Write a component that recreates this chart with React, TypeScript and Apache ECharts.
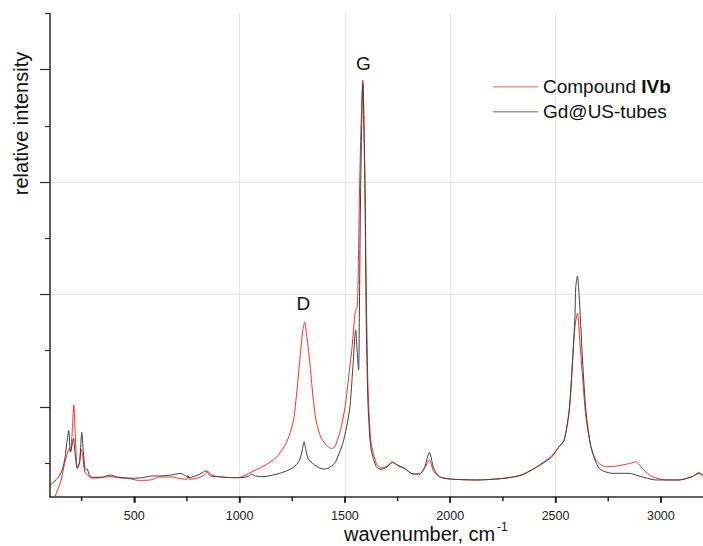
import React, { useEffect, useRef } from "react";
import * as echarts from "echarts";

// Compound IVb (red)
const redWavenumbers = [100, 124, 150, 170, 185, 192, 198, 206, 213, 220, 230, 240, 248, 256, 265, 280, 300, 350, 385, 420, 480, 520, 580, 620, 680, 720, 750, 756, 762, 800, 830, 845, 860, 900, 950, 1000, 1056, 1111, 1175, 1222, 1254, 1270, 1285, 1300, 1309, 1318, 1333, 1348, 1364, 1388, 1419, 1436, 1451, 1475, 1500, 1520, 1535, 1546, 1551, 1559, 1565, 1570, 1578, 1585, 1593, 1601, 1609, 1617, 1625, 1649, 1672, 1700, 1725, 1736, 1759, 1783, 1823, 1854, 1878, 1901, 1922, 1949, 2001, 2130, 2257, 2336, 2399, 2446, 2480, 2517, 2541, 2565, 2581, 2592, 2604, 2616, 2628, 2644, 2668, 2691, 2715, 2739, 2780, 2818, 2850, 2870, 2881, 2895, 2912, 2935, 2960, 3023, 3086, 3150, 3181, 3200];
const redIntensity = [0.0, 0.2, 0.33, 0.5, 0.6, 0.63, 0.6, 0.8, 1.016, 0.75, 0.46, 0.5, 0.62, 0.55, 0.42, 0.39, 0.365, 0.37, 0.38, 0.37, 0.36, 0.345, 0.35, 0.375, 0.375, 0.36, 0.355, 0.39, 0.355, 0.365, 0.39, 0.42, 0.385, 0.378, 0.37, 0.372, 0.42, 0.47, 0.55, 0.68, 0.86, 1.1, 1.4, 1.68, 1.752, 1.65, 1.4, 1.1, 0.867, 0.72, 0.645, 0.63, 0.64, 0.764, 0.99, 1.3, 1.55, 1.8, 1.86, 1.89, 2.4, 2.99, 3.58, 3.907, 3.28, 2.1, 1.21, 0.85, 0.675, 0.497, 0.455, 0.47, 0.502, 0.5, 0.467, 0.452, 0.402, 0.402, 0.45, 0.527, 0.422, 0.378, 0.357, 0.349, 0.364, 0.393, 0.453, 0.511, 0.56, 0.645, 0.704, 0.971, 1.416, 1.713, 1.832, 1.564, 1.268, 0.912, 0.645, 0.527, 0.485, 0.467, 0.47, 0.482, 0.495, 0.505, 0.511, 0.49, 0.453, 0.41, 0.378, 0.349, 0.349, 0.38, 0.408, 0.38];

// Gd@US-tubes (black)
const blackWavenumbers = [100, 140, 160, 172, 180, 189, 197, 205, 212, 218, 230, 240, 251, 258, 266, 272, 277, 285, 298, 350, 385, 420, 495, 540, 582, 620, 677, 717, 740, 760, 803, 843, 870, 900, 960, 1001, 1040, 1056, 1075, 1111, 1190, 1254, 1285, 1298, 1306, 1314, 1325, 1356, 1396, 1419, 1451, 1490, 1522, 1538, 1551, 1558, 1565, 1569, 1573, 1579, 1585, 1590, 1595, 1601, 1609, 1617, 1625, 1649, 1672, 1700, 1725, 1740, 1783, 1823, 1854, 1878, 1901, 1922, 1949, 2001, 2130, 2257, 2336, 2399, 2446, 2480, 2517, 2541, 2565, 2581, 2592, 2596, 2604, 2610, 2616, 2628, 2644, 2668, 2707, 2770, 2849, 2897, 2976, 3086, 3150, 3181, 3200];
const blackIntensity = [0.304, 0.373, 0.45, 0.556, 0.68, 0.787, 0.6, 0.66, 0.72, 0.6, 0.45, 0.5, 0.773, 0.6, 0.455, 0.44, 0.445, 0.4, 0.373, 0.375, 0.393, 0.375, 0.364, 0.37, 0.384, 0.385, 0.393, 0.408, 0.39, 0.37, 0.393, 0.43, 0.39, 0.378, 0.37, 0.369, 0.38, 0.4, 0.385, 0.378, 0.408, 0.458, 0.527, 0.62, 0.689, 0.62, 0.542, 0.482, 0.446, 0.453, 0.497, 0.675, 0.971, 1.357, 1.683, 1.5, 1.327, 1.9, 2.69, 3.44, 3.88, 3.5, 2.99, 1.8, 1.06, 0.76, 0.615, 0.467, 0.444, 0.465, 0.509, 0.49, 0.452, 0.402, 0.402, 0.46, 0.595, 0.45, 0.378, 0.357, 0.349, 0.364, 0.39, 0.45, 0.505, 0.55, 0.645, 0.704, 0.971, 1.416, 1.801, 2.068, 2.163, 2.05, 1.86, 1.416, 0.971, 0.645, 0.453, 0.408, 0.408, 0.384, 0.349, 0.349, 0.38, 0.413, 0.39];

const xMajorTicks = [500, 1000, 1500, 2000, 2500, 3000];
const xMinorTicks = [250, 750, 1250, 1750, 2250, 2750];
const yMajorTicks = [1, 2, 3, 4];
const yMinorTicks = [0.5, 1.5, 2.5, 3.5, 4.5];

const seriesNames = ["Compound IVb", "Gd@US-tubes"];
const FONT = "'Liberation Sans', Arial, sans-serif";
const Y_MIN = 0.2;

export default function App() {
  const ref = useRef<HTMLDivElement>(null);

  useEffect(() => {
    if (!ref.current) return;
    const chart = echarts.init(ref.current, undefined, { renderer: "svg" });
    const red = redWavenumbers.map((w, i) => [w, redIntensity[i]]);
    const black = blackWavenumbers.map((w, i) => [w, blackIntensity[i]]);
    const tickData = [
      ...xMajorTicks.map((v) => [v, 6]),
      ...xMinorTicks.map((v) => [v, 4.5]),
    ];

    const yCommon = {
      type: "value" as const,
      min: Y_MIN,
      max: 4.5,
      position: "left" as const,
    };

    chart.setOption({
      animation: false,
      textStyle: { fontFamily: FONT },
      grid: { left: 50, top: 13.4, width: 654, height: 483.3, containLabel: false },
      xAxis: {
        type: "value",
        min: 100,
        max: 3200,
        position: "bottom",
        interval: 500,
        axisLine: { show: true, onZero: false, lineStyle: { color: "#2a2a2a", width: 1.5 } },
        axisTick: { show: true, inside: false, length: 6, customValues: xMajorTicks, lineStyle: { color: "#222", width: 1.5 } },
        axisLabel: {
          show: true,
          customValues: xMajorTicks,
          margin: 13,
          fontSize: 12.5,
          color: "#222",
          fontFamily: FONT,
          formatter: (v: number) => String(v),
        },
        splitLine: { show: true, showMinLine: false, showMaxLine: false, lineStyle: { color: "#e4e4e4", width: 1 } },
      },
      yAxis: [
        {
          ...yCommon,
          interval: 1,
          axisLine: { show: true, lineStyle: { color: "#2a2a2a", width: 1.5 } },
          axisTick: { show: true, length: 10, customValues: yMajorTicks, lineStyle: { color: "#2a2a2a", width: 1.2 } },
          axisLabel: { show: false },
          splitLine: { show: true, showMinLine: false, showMaxLine: false, lineStyle: { color: "#e4e4e4", width: 1 } },
        },
        {
          ...yCommon,
          interval: 0.5,
          axisLine: { show: false },
          axisTick: { show: true, length: 5, customValues: yMinorTicks, lineStyle: { color: "#2a2a2a", width: 1.2 } },
          axisLabel: { show: false },
          splitLine: { show: false },
        },
      ],
      legend: {
        orient: "vertical",
        left: 488,
        top: 70.7,
        icon: "rect",
        itemWidth: 45,
        itemHeight: 1.5,
        itemGap: 3,
        data: [
          { name: seriesNames[0], itemStyle: { color: "#ff8f8f" }, lineStyle: { color: "#ff8f8f" } },
          { name: seriesNames[1], itemStyle: { color: "#9a9a9a" }, lineStyle: { color: "#9a9a9a" } },
        ],
        formatter: (name: string) => (name === seriesNames[0] ? "Compound {b|IVb}" : name),
        textStyle: {
          fontFamily: FONT,
          fontSize: 19,
          lineHeight: 22,
          color: "#111",
          rich: { b: { fontFamily: FONT, fontSize: 19, fontWeight: "bold", color: "#111", lineHeight: 22 } },
        },
      },
      series: [
        {
          name: seriesNames[0],
          type: "line",
          yAxisIndex: 0,
          data: red,
          showSymbol: false,
          smooth: 0.25,
          lineStyle: { color: "#ff2a2a", width: 1 },
          itemStyle: { color: "#ff2a2a" },
          z: 2,
        },
        {
          name: seriesNames[1],
          type: "line",
          yAxisIndex: 0,
          data: black,
          showSymbol: false,
          smooth: 0.25,
          lineStyle: { color: "#404040", width: 1 },
          itemStyle: { color: "#404040" },
          z: 3,
        },
        {
          type: "custom",
          name: "xTicks",
          yAxisIndex: 0,
          silent: true,
          clip: false,
          z: 10,
          data: tickData,
          renderItem: (_params: any, api: any) => {
            const p = api.coord([api.value(0), Y_MIN]);
            const len = api.value(1);
            return {
              type: "line",
              shape: { x1: p[0], y1: p[1], x2: p[0], y2: p[1] + len },
              style: { stroke: "#222", lineWidth: 1.5 },
            };
          },
        },
      ],
      graphic: [
        {
          type: "text",
          x: 20.5,
          y: 123.5,
          rotation: Math.PI / 2,
          style: { text: "relative intensity", font: `20px ${FONT}`, fill: "#111", align: "center", verticalAlign: "middle" },
        },
        {
          type: "text",
          x: 344,
          y: 534,
          style: { text: "wavenumber, cm", font: `20px ${FONT}`, fill: "#111", align: "left", verticalAlign: "middle" },
        },
        {
          type: "text",
          x: 497,
          y: 527,
          style: { text: "-1", font: `12px ${FONT}`, fill: "#111", align: "left", verticalAlign: "middle" },
        },
        {
          type: "text",
          x: 303.3,
          y: 303,
          style: { text: "D", font: `19px ${FONT}`, fill: "#111", align: "center", verticalAlign: "middle" },
        },
        {
          type: "text",
          x: 363.5,
          y: 63.5,
          style: { text: "G", font: `19px ${FONT}`, fill: "#111", align: "center", verticalAlign: "middle" },
        },
      ],
    });

    return () => chart.dispose();
  }, []);

  return <div ref={ref} style={{ width: 703, height: 546, position: "absolute", left: 0, top: 0 }} />;
}
